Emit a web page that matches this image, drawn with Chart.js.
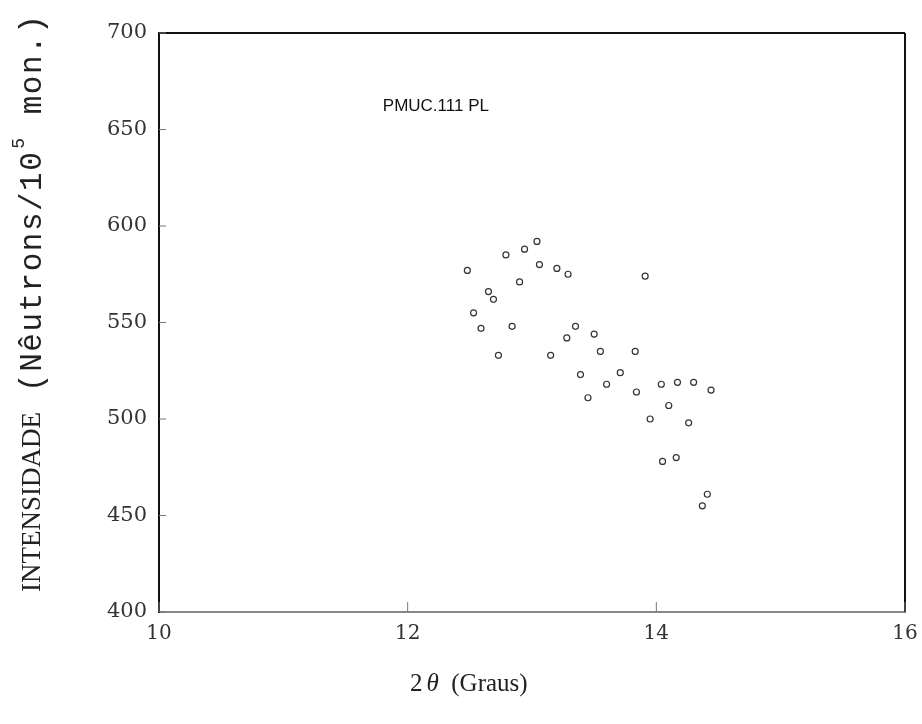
<!DOCTYPE html>
<html>
<head>
<meta charset="utf-8">
<script src="https://cdn.jsdelivr.net/npm/chart.js@4.4.0/dist/chart.umd.min.js"></script>
<style>
	html, body { margin: 0; padding: 0; background: #fff; }
	#wrap { width: 922px; height: 724px; }
</style>
</head>
<body>
<div id="wrap"><canvas id="grafico"></canvas></div>
<script>
// dados (2theta em graus, intensidade)
var angulos = [12.48, 12.79, 12.94, 13.04, 13.06, 13.20, 13.29, 12.90, 12.65, 12.69,
	12.53, 12.59, 12.84, 12.73, 13.15, 13.35, 13.50, 13.28, 13.55, 13.83,
	13.39, 13.71, 13.60, 13.84, 13.45, 14.04, 14.17, 14.30, 14.44, 14.10,
	13.95, 14.26, 14.05, 14.16, 14.41, 14.37, 13.91];
var intensidades = [577, 585, 588, 592, 580, 578, 575, 571, 566, 562,
	555, 547, 548, 533, 533, 548, 544, 542, 535, 535,
	523, 524, 518, 514, 511, 518, 519, 519, 515, 507,
	500, 498, 478, 480, 461, 455, 574];
var ticksX = [10, 12, 14, 16];
var ticksY = [400, 450, 500, 550, 600, 650, 700];
var rotulo = "PMUC.111 PL";
var rotuloPos = [11.8, 662];
var tituloY = ["INTENSIDADE", " (Nêutrons/10", "5", " mon.)"];
var tituloX = ["2", "θ", "  (Graus)"];

var pontos = angulos.map(function (a, i) { return { x: a, y: intensidades[i] }; });

const moldura = {
	id: 'moldura',
	afterDraw(chart) {
		const ctx = chart.ctx, a = chart.chartArea;
		const sx = chart.scales.x, sy = chart.scales.y;
		ctx.save();
		ctx.strokeStyle = '#111';
		ctx.lineWidth = 2;
		ctx.beginPath();
		ctx.moveTo(a.left, a.top); ctx.lineTo(a.right, a.top);
		ctx.moveTo(a.right, a.top); ctx.lineTo(a.right, a.bottom);
		ctx.stroke();
		// marcas internas
		ctx.strokeStyle = '#777';
		ctx.lineWidth = 1;
		ctx.beginPath();
		ticksY.forEach(function (v) {
			const p = sy.getPixelForValue(v);
			ctx.moveTo(a.left, p); ctx.lineTo(a.left + 7, p);
		});
		ticksX.forEach(function (v) {
			const p = sx.getPixelForValue(v);
			ctx.moveTo(p, a.bottom); ctx.lineTo(p, a.bottom - 10);
		});
		ctx.stroke();

		ctx.fillStyle = '#111';
		ctx.font = '17px "Liberation Sans", Arial, sans-serif';
		ctx.textBaseline = 'middle';
		ctx.fillText(rotulo, sx.getPixelForValue(rotuloPos[0]), sy.getPixelForValue(rotuloPos[1]));

		// titulo do eixo y (rotacionado)
		ctx.save();
		ctx.fillStyle = '#222';
		ctx.translate(33, 592);
		ctx.rotate(-Math.PI / 2);
		ctx.textAlign = 'left';
		ctx.textBaseline = 'middle';
		let t = 0;
		ctx.font = '27px "Liberation Serif", serif';
		ctx.fillText(tituloY[0], t, 0);
		t += ctx.measureText(tituloY[0]).width;
		ctx.letterSpacing = '1.5px';
		ctx.font = '31px "Liberation Mono", monospace';
		ctx.fillText(tituloY[1], t, 0);
		t += ctx.measureText(tituloY[1]).width;
		ctx.font = '18px "Liberation Mono", monospace';
		ctx.fillText(tituloY[2], t + 2, -14);
		t += ctx.measureText(tituloY[2]).width + 4;
		ctx.font = '31px "Liberation Mono", monospace';
		ctx.fillText(tituloY[3], t, 0);
		ctx.restore();

		// titulo do eixo x
		ctx.fillStyle = '#222';
		ctx.textBaseline = 'middle';
		ctx.textAlign = 'left';
		let x = 410;
		ctx.font = '25px "Liberation Serif", serif';
		ctx.fillText(tituloX[0], x, 684);
		x += ctx.measureText(tituloX[0]).width + 4;
		ctx.font = 'italic 25px "Liberation Serif", serif';
		ctx.fillText(tituloX[1], x, 684);
		x += ctx.measureText(tituloX[1]).width;
		ctx.font = '25px "Liberation Serif", serif';
		ctx.fillText(tituloX[2], x, 684);
		ctx.restore();
	}
};

new Chart(document.getElementById('grafico'), {
	type: 'scatter',
	data: {
		datasets: [{
			data: pontos,
			pointStyle: 'circle',
			pointRadius: 3,
			borderColor: '#333',
			backgroundColor: 'rgba(0,0,0,0)',
			borderWidth: 1.2
		}]
	},
	options: {
		responsive: true,
		maintainAspectRatio: false,
		animation: false,
		layout: { padding: { top: 33, right: 17, left: 0, bottom: 0 } },
		plugins: { legend: { display: false }, tooltip: { enabled: false } },
		scales: {
			x: {
				type: 'linear', min: 10, max: 16,
				afterBuildTicks: function (s) { s.ticks = ticksX.map(function (v) { return { value: v }; }); },
				afterFit: function (s) { s.height = 112; },
				grid: { display: false },
				border: { display: true, color: '#888', width: 2, dash: [14, 6] },
				ticks: { color: '#333', padding: 2, font: { family: '"DejaVu Serif", serif', size: 20 } }
			},
			y: {
				type: 'linear', min: 400, max: 700,
				afterBuildTicks: function (s) { s.ticks = ticksY.map(function (v) { return { value: v }; }); },
				afterFit: function (s) { s.width = 159; },
				grid: { display: false },
				border: { display: true, color: '#111', width: 2 },
				ticks: { color: '#333', padding: 4, font: { family: '"DejaVu Serif", serif', size: 21 } }
			}
		}
	},
	plugins: [moldura]
});
</script>
</body>
</html>
